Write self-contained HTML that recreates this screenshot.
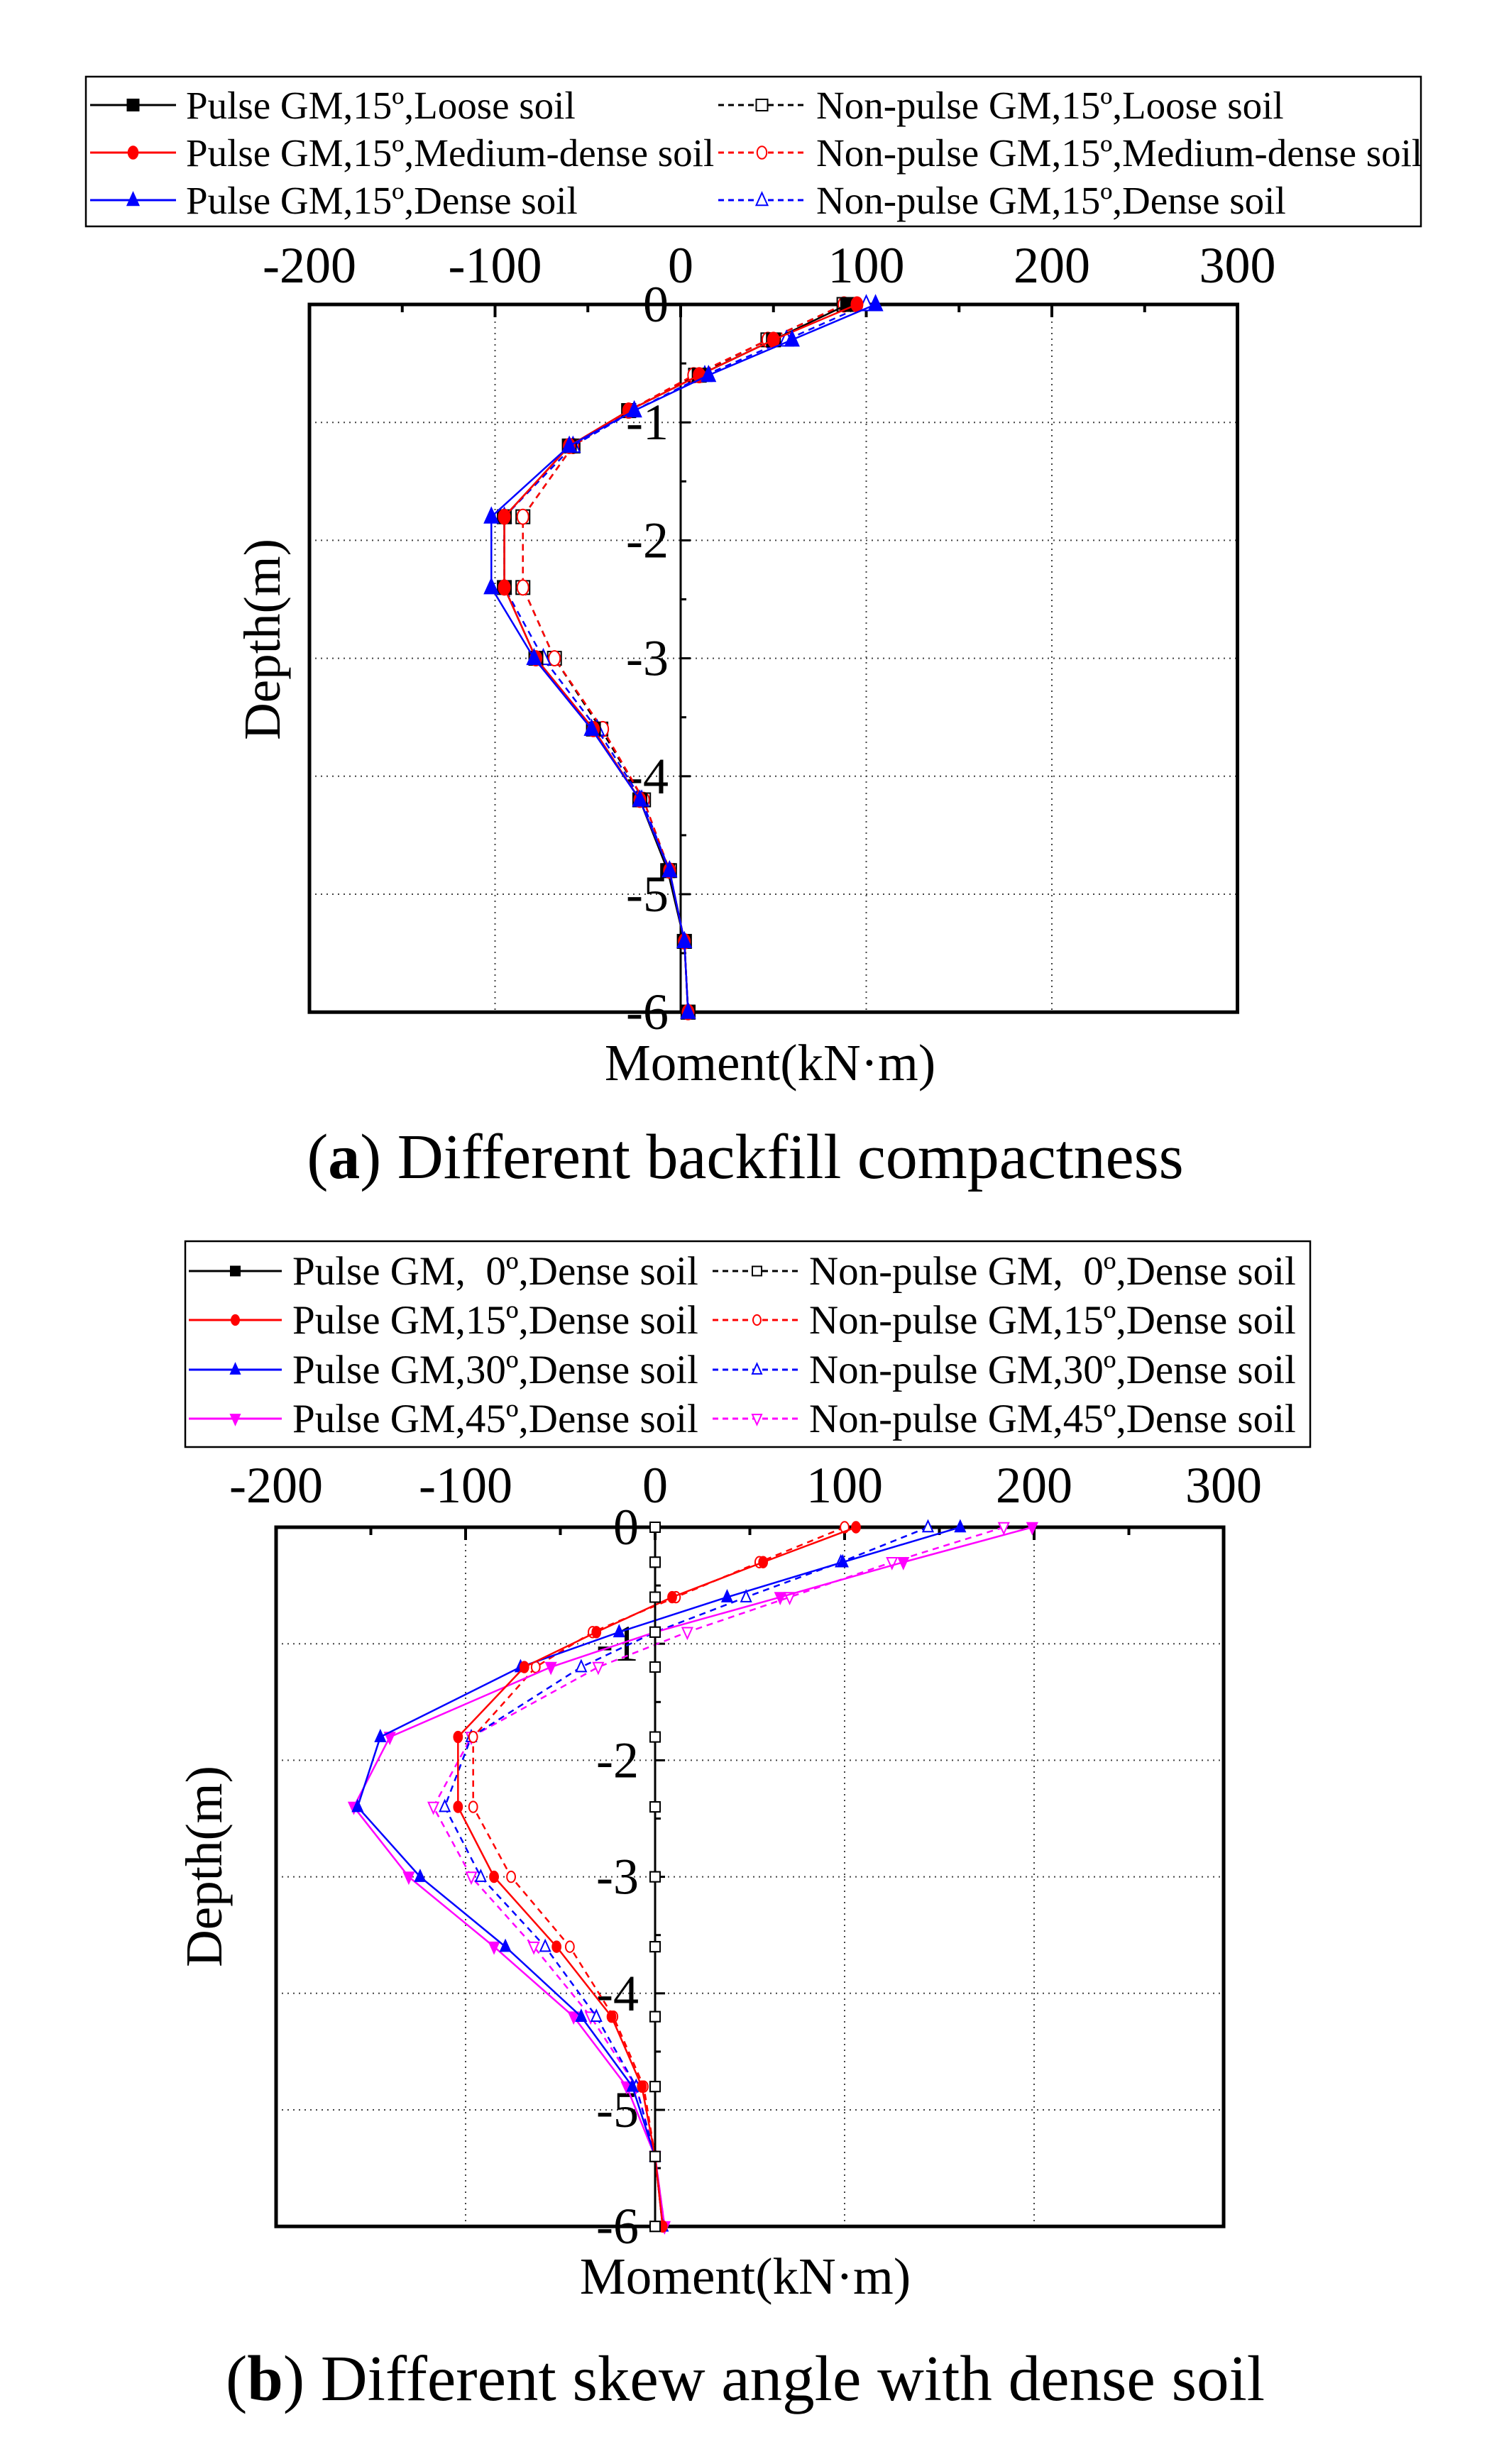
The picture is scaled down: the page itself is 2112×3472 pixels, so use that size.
<!DOCTYPE html>
<html><head><meta charset="utf-8"><title>Moment vs depth</title>
<style>
html,body{margin:0;padding:0;background:#fff;}
svg{display:block;font-family:"Liberation Serif","Times New Roman",serif;}
</style></head>
<body>
<svg id="fig" width="2112" height="3472" viewBox="0 0 2112 3472" xmlns="http://www.w3.org/2000/svg">
<rect x="0" y="0" width="2112" height="3472" fill="#fff"/>
<g>
<rect x="121" y="108" width="1881" height="211" fill="#fff" stroke="#000" stroke-width="2.5"/>
</g>
<g>
<rect x="261" y="1749" width="1585" height="290" fill="#fff" stroke="#000" stroke-width="2.5"/>
</g>
<g id="chartA"></g>
<g id="chartB"></g>
<text x="1085" y="1522" font-size="73" text-anchor="middle">Moment(kN·m)</text>
<text transform="translate(394,901) rotate(-90)" font-size="73" text-anchor="middle">Depth(m)</text>
<text x="1050" y="1660" font-size="90" text-anchor="middle">(<tspan font-weight="bold">a</tspan>) Different backfill compactness</text>
<text x="1050" y="3232" font-size="73" text-anchor="middle">Moment(kN·m)</text>
<text transform="translate(312,2630) rotate(-90)" font-size="73" text-anchor="middle">Depth(m)</text>
<text x="1050" y="3382" font-size="91" text-anchor="middle">(<tspan font-weight="bold">b</tspan>) Different skew angle with dense soil</text>
</svg>
<script>
const depths = [0,-0.3,-0.6,-0.9,-1.2,-1.8,-2.4,-3.0,-3.6,-4.2,-4.8,-5.4,-6.0];
const xTickLabels = ["-200","-100","0","100","200","300"];
const yTickLabels = ["0","-1","-2","-3","-4","-5","-6"];
// chart a series
const aPulseLoose  = [90,50,10,-28,-60,-95,-95,-78,-47,-22,-7,2,4];
const aPulseMedium = [95,50,10,-28,-60,-95,-95,-78,-47,-22,-6,2,4];
const aPulseDense  = [105,60,15,-25,-60,-102,-102,-79,-48,-22,-6,2,4];
const aNonLoose    = [88,47,8,-28,-58,-85,-85,-68,-43,-20,-6,2,4];
const aNonMedium   = [88,47,7,-28,-58,-85,-85,-68,-42,-20,-6,2,4];
const aNonDense    = [100,57,13,-25,-58,-95,-95,-74,-45,-21,-6,2,4];
// chart b series
const bPulse0   = [0,0,0,0,0,0,0,0,0,0,0,0,0];
const bNon0     = [0,0,0,0,0,0,0,0,0,0,0,0,0];
const bPulse15  = [106,57,9,-31,-69,-104,-104,-85,-52,-23,-7,0,4];
const bNon15    = [100,55,11,-33,-63,-96,-96,-76,-45,-22,-6,0,4];
const bPulse30  = [161,99,38,-19,-71,-145,-157,-124,-79,-39,-12,0,4];
const bNon30    = [144,98,48,0,-39,-97,-111,-92,-58,-31,-10,0,4];
const bPulse45  = [199,131,66,0,-55,-140,-159,-130,-85,-43,-15,0,5];
const bNon45    = [184,125,71,17,-30,-97,-117,-97,-64,-34,-10,0,5];

const NS = "http://www.w3.org/2000/svg";
function mk(tag, attrs, parent){
  const e = document.createElementNS(NS, tag);
  for (const k in attrs) e.setAttribute(k, attrs[k]);
  parent.appendChild(e);
  return e;
}
function marker(g, shape, cx, cy, s, color, filled){
  const fill = filled ? color : "#fff";
  let m;
  if (shape === "square") m = mk("rect",{x:cx-s/2,y:cy-s/2,width:s,height:s,fill:fill,stroke:color,"stroke-width":2},g);
  else if (shape === "circle") m = mk("ellipse",{cx:cx,cy:cy,rx:s*0.42,ry:s*0.55,fill:fill,stroke:color,"stroke-width":2},g);
  else if (shape === "up") m = mk("polygon",{points:`${cx},${cy-s*0.65} ${cx-s*0.5},${cy+s*0.45} ${cx+s*0.5},${cy+s*0.45}`,fill:fill,stroke:color,"stroke-width":2},g);
  else m = mk("polygon",{points:`${cx},${cy+s*0.65} ${cx-s*0.5},${cy-s*0.45} ${cx+s*0.5},${cy-s*0.45}`,fill:fill,stroke:color,"stroke-width":2},g);
  
  
  return m;
}
function drawChart(gid, cfg, series){
  const g = document.getElementById(gid);
  const X = v => cfg.x0 + v * cfg.kx;
  const Y = d => cfg.top + (-d) * cfg.ky;
  const L = X(-200), R = X(300), B = Y(-6);
  [-100,100,200].forEach(v=>{
    const l = mk("line",{x1:X(v),y1:cfg.top,x2:X(v),y2:B,stroke:"#444","stroke-width":2,"stroke-dasharray":"2 6"},g);
    
    
  });
  [-1,-2,-3,-4,-5].forEach(d=>{
    const l = mk("line",{x1:L,y1:Y(d),x2:R,y2:Y(d),stroke:"#444","stroke-width":2,"stroke-dasharray":"2 6"},g);
    
    
  });
  const fr = mk("rect",{x:L,y:cfg.top,width:R-L,height:B-cfg.top,fill:"none",stroke:"#000","stroke-width":5},g);
  
  
  for (let v=-150; v<300; v+=50){
    const major = v % 100 === 0;
    const t = mk("line",{x1:X(v),y1:cfg.top,x2:X(v),y2:cfg.top+(major?18:11),stroke:"#000","stroke-width":4},g);
    
    
  }
  xTickLabels.forEach(s=>{
    const t = mk("text",{x:X(+s),y:cfg.labY,"font-size":72,"text-anchor":"middle"},g);
    t.textContent = s;
    
    
  });
  const ax = mk("line",{x1:X(0),y1:cfg.top,x2:X(0),y2:B,stroke:"#000","stroke-width":3},g);
  
  
  for (let d=0; d>=-6; d-=0.5){
    const major = Math.abs(d % 1) < 1e-9;
    const t = mk("line",{x1:X(0),y1:Y(d),x2:X(0)+(major?14:8),y2:Y(d),stroke:"#000","stroke-width":3},g);
    
    
  }
  yTickLabels.forEach(s=>{
    const t = mk("text",{x:cfg.yLabX,y:Y(+s)+24,"font-size":72,"text-anchor":"end"},g);
    t.textContent = s;
    
    
  });
  series.forEach(sr=>{
    const sg = mk("g",{},g);
    
    
    const pts = sr.vals.map((v,i)=>`${X(v)},${Y(depths[i])}`).join(" ");
    const pl = mk("polyline",{points:pts,fill:"none",stroke:sr.color,"stroke-width":2.5,"stroke-dasharray":sr.dash?"9 7":"none"},sg);
    
    
    sr.vals.forEach((v,i)=>marker(sg, sr.shape, X(v), Y(depths[i]), cfg.ms, sr.color, !sr.dash));
  });
}
drawChart("chartA",{x0:959,kx:2.615,top:429,ky:166.2,labY:398,yLabX:942,ms:19},[
  {name:"series-nonpulse-loose",vals:aNonLoose,color:"#000",dash:true,shape:"square"},
  {name:"series-nonpulse-medium",vals:aNonMedium,color:"#f00",dash:true,shape:"circle"},
  {name:"series-nonpulse-dense",vals:aNonDense,color:"#00f",dash:true,shape:"up"},
  {name:"series-pulse-loose",vals:aPulseLoose,color:"#000",dash:false,shape:"square"},
  {name:"series-pulse-medium",vals:aPulseMedium,color:"#f00",dash:false,shape:"circle"},
  {name:"series-pulse-dense",vals:aPulseDense,color:"#00f",dash:false,shape:"up"}
]);
drawChart("chartB",{x0:923,kx:2.67,top:2152,ky:164.2,labY:2117,yLabX:900,ms:14},[
  {name:"series-nonpulse-45",vals:bNon45,color:"#f0f",dash:true,shape:"down"},
  {name:"series-nonpulse-30",vals:bNon30,color:"#00f",dash:true,shape:"up"},
  {name:"series-nonpulse-15",vals:bNon15,color:"#f00",dash:true,shape:"circle"},
  {name:"series-pulse-45",vals:bPulse45,color:"#f0f",dash:false,shape:"down"},
  {name:"series-pulse-30",vals:bPulse30,color:"#00f",dash:false,shape:"up"},
  {name:"series-pulse-15",vals:bPulse15,color:"#f00",dash:false,shape:"circle"},
  {name:"series-pulse-0",vals:bPulse0,color:"#000",dash:false,shape:"square"},
  {name:"series-nonpulse-0",vals:bNon0,color:"#000",dash:true,shape:"square"}
]);
const legendALabels = ["Pulse GM,15º,Loose soil","Pulse GM,15º,Medium-dense soil","Pulse GM,15º,Dense soil","Non-pulse GM,15º,Loose soil","Non-pulse GM,15º,Medium-dense soil","Non-pulse GM,15º,Dense soil"];
const legendBLabels = ["Pulse GM,  0º,Dense soil","Pulse GM,15º,Dense soil","Pulse GM,30º,Dense soil","Pulse GM,45º,Dense soil","Non-pulse GM,  0º,Dense soil","Non-pulse GM,15º,Dense soil","Non-pulse GM,30º,Dense soil","Non-pulse GM,45º,Dense soil"];
function legend(rows, labels, colors, shapes, cols, fs, ms){
  const svg = document.getElementById("fig");
  labels.forEach((lab,i)=>{
    const c = Math.floor(i / rows.length), r = i % rows.length;
    const col = cols[c], y = rows[r], dash = c === 1;
    const g = mk("g",{},svg);
    
    
    mk("line",{x1:col.l1,y1:y,x2:col.l2,y2:y,stroke:colors[r],"stroke-width":3,"stroke-dasharray":dash?"8 6":"none"},g);
    marker(g, shapes[r], (col.l1+col.l2)/2, y, ms, colors[r], !dash);
    const t = mk("text",{x:col.t,y:y+19,"font-size":fs,"xml:space":"preserve"},g);
    t.setAttribute("style","white-space:pre");
    t.textContent = lab;
    
    
  });
}
legend([148,215,282], legendALabels, ["#000","#f00","#00f"], ["square","circle","up"],
  [{l1:127,l2:248,t:262},{l1:1012,l2:1135,t:1150}], 55, 16);
legend([1791,1860,1930,1999], legendBLabels, ["#000","#f00","#00f","#f0f"], ["square","circle","up","down"],
  [{l1:266,l2:397,t:412},{l1:1004,l2:1129,t:1140}], 57, 13);
</script>
</body></html>
